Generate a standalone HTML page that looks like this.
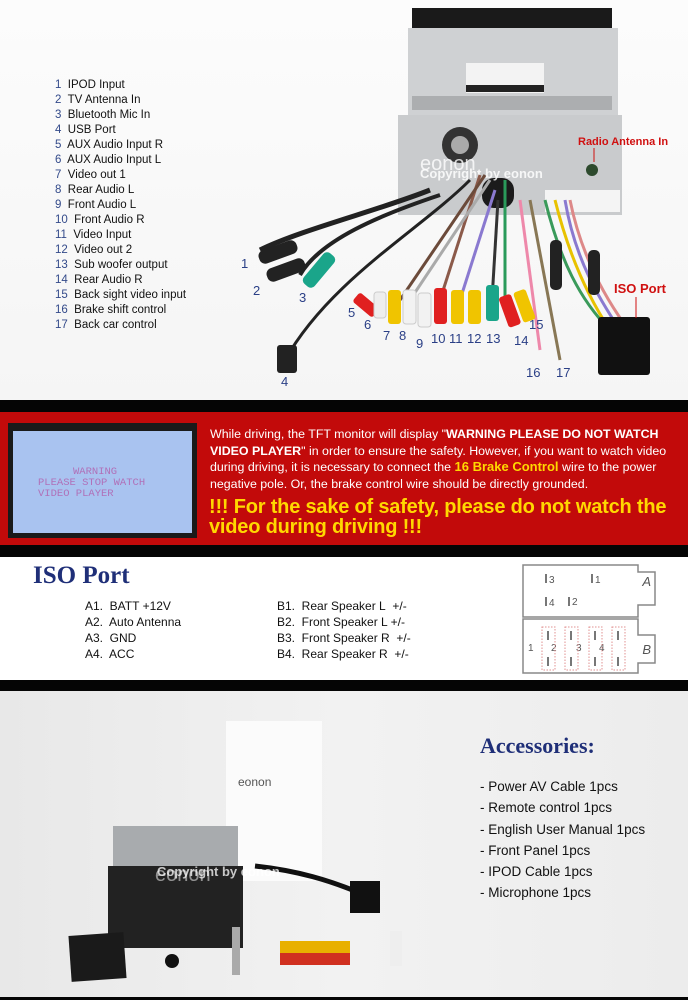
<!DOCTYPE html>
<html><head><meta charset="utf-8"><style>
body{margin:0;width:688px;height:1000px;overflow:hidden;background:#fff;font-family:"Liberation Sans",Arial,sans-serif;position:relative}
.a{position:absolute}
.list{left:55px;top:78px;font-size:11.5px;line-height:15px;color:#111}
.list span{color:#334a8a}
.red{left:0;top:412px;width:688px;height:133px;background:#c20a0a}
.blk{background:#050505;width:688px}
.nw{white-space:nowrap}
</style></head><body>
<div class="a" style="left:0;top:0;width:688px;height:400px;background:linear-gradient(#fcfcfc,#f5f5f5)"></div>
<svg class="a" style="left:0;top:0" width="688" height="400">
 <rect x="412" y="8" width="200" height="22" fill="#1a1a1a"/>
 <rect x="408" y="28" width="210" height="88" fill="#cfd1d3"/>
 <rect x="466" y="63" width="78" height="30" fill="#f3f3f3"/>
 <rect x="466" y="85" width="78" height="7" fill="#222"/>
 <g fill="#8a8c8e"><rect x="412" y="96" width="200" height="14" opacity=".5"/></g>
 <rect x="398" y="115" width="224" height="100" fill="#c9cbcd"/>
 <circle cx="460" cy="145" r="18" fill="#333"/><circle cx="460" cy="145" r="9" fill="#aaa"/>
 <rect x="482" y="178" width="32" height="30" rx="12" fill="#1b1b1b"/>
 <rect x="545" y="190" width="75" height="22" fill="#f4f4f4"/>
 <circle cx="592" cy="170" r="6" fill="#2d4a2d"/>
 <text x="420" y="170" font-size="20" fill="#fff" opacity=".8" font-family="Liberation Sans">eonon</text>
 <text x="420" y="178" font-size="13" fill="#fff" font-weight="bold" opacity=".85" font-family="Liberation Sans">Copyright by eonon</text>
 <g fill="none" stroke-width="3">
  <path d="M430 190 C380 210 300 230 260 250" stroke="#222" stroke-width="5"/>
  <path d="M440 195 C380 215 320 240 300 275" stroke="#222" stroke-width="4"/>
  <path d="M470 180 C420 230 330 280 285 360" stroke="#222"/>
  <path d="M480 175 L440 300" stroke="#8b5a4a"/><path d="M485 175 L400 300" stroke="#6b4a3a"/>
  <path d="M490 180 L410 300" stroke="#aaa"/><path d="M495 190 L460 300" stroke="#8a79d0"/>
  <path d="M498 200 L492 300" stroke="#333"/><path d="M505 180 L505 300" stroke="#2a9a5a"/>
  <path d="M520 200 L540 350" stroke="#e8a" /><path d="M530 200 L560 360" stroke="#875"/>
  <path d="M545 200 C560 260 580 300 610 330" stroke="#3a9a5a"/>
  <path d="M555 200 C570 260 590 300 610 330" stroke="#e8c200"/>
  <path d="M565 200 C575 260 600 300 620 330" stroke="#8a79d0"/>
  <path d="M570 200 C580 250 600 290 625 325" stroke="#d88"/>
 </g>
 <rect x="550" y="240" width="12" height="50" rx="5" fill="#222"/>
 <rect x="588" y="250" width="12" height="45" rx="5" fill="#222"/>
 <rect x="598" y="317" width="52" height="58" rx="3" fill="#111"/>
 <g>
  <rect x="258" y="245" width="40" height="14" rx="6" fill="#222" transform="rotate(-20 278 252)"/>
  <rect x="266" y="263" width="40" height="14" rx="6" fill="#222" transform="rotate(-20 286 270)"/>
  <rect x="312" y="250" width="14" height="40" rx="5" fill="#1aa58a" transform="rotate(40 319 270)"/>
  <rect x="277" y="345" width="20" height="28" rx="3" fill="#222"/>
 </g>
 <g>
  <rect x="360" y="292" width="12" height="26" rx="3" fill="#e02020" transform="rotate(-50 366 305)"/>
  <rect x="374" y="292" width="12" height="26" rx="3" fill="#eee" stroke="#ccc"/>
  <rect x="388" y="290" width="13" height="34" rx="3" fill="#f0c400"/>
  <rect x="403" y="290" width="13" height="34" rx="3" fill="#f2f2f2" stroke="#ccc"/>
  <rect x="418" y="293" width="13" height="34" rx="3" fill="#f2f2f2" stroke="#ccc"/>
  <rect x="434" y="288" width="13" height="36" rx="3" fill="#e02020"/>
  <rect x="451" y="290" width="13" height="34" rx="3" fill="#f0c400"/>
  <rect x="468" y="290" width="13" height="34" rx="3" fill="#f0c400"/>
  <rect x="486" y="285" width="13" height="36" rx="3" fill="#1aa58a"/>
  <rect x="503" y="295" width="13" height="32" rx="3" fill="#e02020" transform="rotate(-20 509 310)"/>
  <rect x="518" y="290" width="13" height="32" rx="3" fill="#f0c400" transform="rotate(-20 524 306)"/>
 </g>
 <g font-size="13" fill="#2a3f86" font-family="Liberation Sans">
  <text x="241" y="268">1</text><text x="253" y="295">2</text><text x="299" y="302">3</text><text x="281" y="386">4</text>
  <text x="348" y="317">5</text><text x="364" y="329">6</text><text x="383" y="340">7</text><text x="399" y="340">8</text>
  <text x="416" y="348">9</text><text x="431" y="343">10</text><text x="449" y="343">11</text><text x="467" y="343">12</text>
  <text x="486" y="343">13</text><text x="514" y="345">14</text><text x="529" y="329">15</text><text x="526" y="377">16</text><text x="556" y="377">17</text>
 </g>
 <text x="578" y="145" font-size="11" fill="#d01010" font-weight="bold">Radio Antenna In</text>
 <line x1="594" y1="148" x2="594" y2="162" stroke="#d01010"/>
 <text x="614" y="293" font-size="13" fill="#d01010" font-weight="bold">ISO Port</text>
 <line x1="636" y1="297" x2="636" y2="318" stroke="#d01010"/>
</svg>
<div class="a list">
<div><span>1</span>&nbsp; IPOD Input</div><div><span>2</span>&nbsp; TV Antenna In</div><div><span>3</span>&nbsp; Bluetooth Mic In</div><div><span>4</span>&nbsp; USB Port</div><div><span>5</span>&nbsp; AUX Audio Input R</div><div><span>6</span>&nbsp; AUX Audio Input L</div><div><span>7</span>&nbsp; Video out 1</div><div><span>8</span>&nbsp; Rear Audio L</div><div><span>9</span>&nbsp; Front Audio L</div><div><span>10</span>&nbsp; Front Audio R</div><div><span>11</span>&nbsp; Video Input</div><div><span>12</span>&nbsp; Video out 2</div><div><span>13</span>&nbsp; Sub woofer output</div><div><span>14</span>&nbsp; Rear Audio R</div><div><span>15</span>&nbsp; Back sight video input</div><div><span>16</span>&nbsp; Brake shift control</div><div><span>17</span>&nbsp; Back car control</div>
</div>
<div class="a blk" style="left:0;top:400px;height:12px"></div>
<div class="a red"></div>
<div class="a blk" style="left:0;top:545px;height:12px"></div>
<div class="a" style="left:8px;top:423px;width:189px;height:115px;background:#1a1a1a"></div>
<div class="a" style="left:13px;top:431px;width:179px;height:102px;background:#a9c3f0;font-family:'Liberation Mono',monospace;font-size:10.5px;line-height:11.5px;color:#b070b8">
<div style="position:absolute;left:60px;top:36px">WARNING</div>
<div style="position:absolute;left:25px;top:47px">PLEASE STOP WATCH</div>
<div style="position:absolute;left:25px;top:58px">VIDEO PLAYER</div></div>
<div class="a nw" style="left:210px;top:426px;font-size:12.4px;line-height:16.7px;color:#fff;letter-spacing:0">While driving, the TFT monitor will display "<b>WARNING PLEASE DO NOT WATCH</b><br><b>VIDEO PLAYER</b>" in order to ensure the safety. However, if you want to watch video<br>during driving, it is necessary to connect the <b style="color:#ffd800;font-size:13px">16 Brake Control</b> wire to the power<br>negative pole. Or, the brake control wire should be directly grounded.</div>
<div class="a nw" style="left:209px;top:498px;font-size:20px;line-height:19.5px;font-weight:bold;color:#ffd800;letter-spacing:-.2px">!!! For the sake of safety, please do not watch the<br>video during driving !!!</div>
<div class="a" style="left:33px;top:562px;font-family:'Liberation Serif',serif;font-weight:bold;font-size:25px;color:#1f2f78">ISO Port</div>
<div class="a" style="left:85px;top:598px;font-size:12px;line-height:16px;color:#111">A1.&nbsp; BATT +12V<br>A2.&nbsp; Auto Antenna<br>A3.&nbsp; GND<br>A4.&nbsp; ACC</div>
<div class="a" style="left:277px;top:598px;font-size:12px;line-height:16px;color:#111">B1.&nbsp; Rear Speaker L&nbsp; +/-<br>B2.&nbsp; Front Speaker L +/-<br>B3.&nbsp; Front Speaker R&nbsp; +/-<br>B4.&nbsp; Rear Speaker R&nbsp; +/-</div>
<svg class="a" style="left:520px;top:560px" width="150" height="120">
 <g fill="none" stroke="#888" stroke-width="1.5">
  <path d="M3 5 H118 V12 H135 V45 H118 V57 H3 Z"/>
  <path d="M3 59 H118 V75 H135 V103 H118 V113 H3 Z"/>
 </g>
 <g font-size="10" fill="#555"><text x="131" y="26" font-style="italic" text-anchor="end" font-size="13">A</text><text x="131" y="94" font-style="italic" text-anchor="end" font-size="13">B</text>
 <text x="29" y="23">3</text><text x="75" y="23">1</text><text x="29" y="46">4</text><text x="52" y="45">2</text>
 <text x="8" y="91">1</text><text x="31" y="91">2</text><text x="56" y="91">3</text><text x="79" y="91">4</text></g>
 <g fill="#777"><rect x="25" y="14" width="2" height="9"/><rect x="71" y="14" width="2" height="9"/><rect x="25" y="37" width="2" height="9"/><rect x="48" y="37" width="2" height="9"/></g>
 <g fill="none" stroke="#e09090" stroke-dasharray="1.5 1.5"><rect x="22" y="67" width="13" height="43"/><rect x="45" y="67" width="13" height="43"/><rect x="69" y="67" width="13" height="43"/><rect x="92" y="67" width="13" height="43"/></g>
 <g fill="#777"><rect x="27" y="71" width="2" height="9"/><rect x="27" y="97" width="2" height="9"/><rect x="50" y="71" width="2" height="9"/><rect x="50" y="97" width="2" height="9"/><rect x="74" y="71" width="2" height="9"/><rect x="74" y="97" width="2" height="9"/><rect x="97" y="71" width="2" height="9"/><rect x="97" y="97" width="2" height="9"/></g>
</svg>
<div class="a blk" style="left:0;top:680px;height:11px"></div>
<div class="a" style="left:0;top:691px;width:688px;height:306px;background:linear-gradient(90deg,#e8e8e8,#f2f2f2 50%,#ececec)"></div>
<div class="a blk" style="left:0;top:997px;height:3px"></div>
<svg class="a" style="left:0;top:691px" width="688" height="306">
 <rect x="226" y="30" width="96" height="160" fill="#fbfbfb"/>
 <text x="238" y="95" font-size="12" fill="#555">eonon</text>
 <rect x="113" y="135" width="125" height="45" fill="#a8abae"/>
 <rect x="108" y="175" width="135" height="82" fill="#222"/>
 <rect x="70" y="243" width="55" height="46" fill="#1a1a1a" transform="rotate(-4 97 266)"/>
 <circle cx="172" cy="270" r="7" fill="#111"/>
 <rect x="232" y="236" width="8" height="48" fill="#aaa"/>
 <path d="M255 175 C300 180 330 190 355 200" stroke="#111" stroke-width="5" fill="none"/>
 <rect x="350" y="190" width="30" height="32" fill="#111"/>
 <g><rect x="280" y="250" width="70" height="12" fill="#e8b000"/><rect x="280" y="262" width="70" height="12" fill="#d03020"/></g>
 <rect x="390" y="240" width="12" height="35" fill="#eee"/>
 <text x="155" y="190" font-size="20" fill="#fff" opacity=".5">eonon</text>
 <text x="157" y="185" font-size="13" fill="#fff" font-weight="bold" opacity=".75">Copyright by eonon</text>
</svg>
<div class="a" style="left:480px;top:733px;font-family:'Liberation Serif',serif;font-weight:bold;font-size:22px;color:#1f2f78">Accessories:</div>
<div class="a" style="left:480px;top:776px;font-size:13.5px;line-height:21.3px;color:#111">- Power AV Cable 1pcs<br>- Remote control 1pcs<br>- English User Manual 1pcs<br>- Front Panel 1pcs<br>- IPOD Cable 1pcs<br>- Microphone 1pcs</div>
</body></html>
